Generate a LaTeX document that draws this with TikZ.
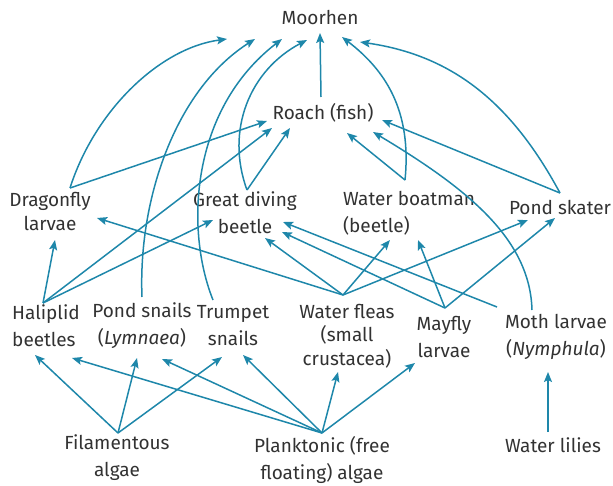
\documentclass[tikz,border=0pt]{standalone}
\usepackage{fontspec}
\setmainfont{Fira Sans}
\usetikzlibrary{arrows.meta,calc}
\definecolor{arrowc}{RGB}{30,135,170}
\definecolor{txt}{RGB}{50,50,50}
\tikzset{
  lbl/.style={text=txt, font=\fontsize{19}{27}\selectfont, align=center, inner sep=0pt},
  arr/.style={draw=arrowc, line width=1.5pt, -{Stealth[length=10pt,width=8pt,inset=2pt]}}
}
\begin{document}
\begin{tikzpicture}[x=1pt,y=-1pt]
\useasboundingbox (0,0) rectangle (613,486);
\node[lbl] (M) at (320,18) {Moorhen};
\node[lbl] (R) at (323,113) {Roach (fish)};
\node[lbl,font=\fontsize{19}{24}\selectfont] (D) at (50,211) {Dragonfly\\larvae};
\node[lbl] (G) at (245,213) {Great diving\\beetle};
\node[lbl,align=left] (B) at (409,213) {Water boatman\\(beetle)};
\node[lbl] (S) at (560,207) {Pond skater};
\node[lbl,align=left] (H) at (46,326) {Haliplid\\beetles};
\node[lbl] (P) at (142,326) {Pond snails\\(\textit{Lymnaea})};
\node[lbl] (T) at (233,326) {Trumpet\\snails};
\node[lbl,font=\fontsize{19}{23.5}\selectfont] (F) at (347,336) {Water fleas\\(small\\crustacea)};
\node[lbl] (Y) at (444,337) {Mayfly\\larvae};
\node[lbl] (O) at (556,337) {Moth larvae\\(\textit{Nymphula})};
\node[lbl] (L) at (553,445) {Water lilies};
\node[lbl] (A) at (117,458) {Filamentous\\algae};
\node[lbl] (K) at (322,460) {Planktonic (free\\floating) algae};
% to Moorhen
\draw[arr] ($(R)+(-2,-16)$) -- ($(M)+(0,15)$);
\draw[arr] ($(D)+(20,-23)$) .. controls (95,110) and (160,48) .. ($(M)+(-93,21)$);
\draw[arr] ($(P)+(0,-29)$) .. controls (138,200) and (175,90) .. ($(M)+(-65,21)$);
\draw[arr] ($(T)+(-20,-26)$) .. controls (185,230) and (190,110) .. ($(M)+(-38,21)$);
\draw[arr] ($(G)+(2,-23)$) .. controls (225,130) and (250,70) .. ($(M)+(-13,22)$);
\draw[arr] ($(B)+(-4,-33)$) .. controls (412,110) and (385,70) .. ($(M)+(22,19)$);
\draw[arr] ($(S)+(0,-14)$) .. controls (510,100) and (450,55) .. ($(M)+(40,24)$);
% to Roach
\draw[arr] ($(D)+(20,-23)$) -- ($(R)+(-56,8)$);
\draw[arr] ($(G)+(2,-23)$) -- ($(R)+(-33,15)$);
\draw[arr] ($(H)+(-3,-23)$) -- ($(R)+(-51,15)$);
\draw[arr] ($(O)+(-24,-27)$) .. controls (530,240) and (470,190) .. ($(R)+(50,19)$);
\draw[arr] ($(B)+(-4,-33)$) -- ($(R)+(24,20)$);
\draw[arr] ($(S)+(0,-14)$) -- ($(R)+(59,7)$);
% Haliplid
\draw[arr] ($(H)+(-3,-23)$) -- ($(D)+(5,29)$);
\draw[arr] ($(H)+(-3,-23)$) -- ($(G)+(-32,7)$);
% Water fleas
\draw[arr] ($(F)+(-4,-41)$) -- ($(D)+(47,7)$);
\draw[arr] ($(F)+(-4,-41)$) -- ($(G)+(20,25)$);
\draw[arr] ($(F)+(-4,-41)$) -- ($(B)+(-19,27)$);
\draw[arr] ($(F)+(-4,-41)$) -- ($(S)+(-32,13)$);
% Mayfly
\draw[arr] ($(Y)+(1,-29)$) -- ($(G)+(37,19)$);
\draw[arr] ($(Y)+(1,-29)$) -- ($(B)+(9,27)$);
\draw[arr] ($(Y)+(1,-29)$) -- ($(S)+(-5,11)$);
% Moth
\draw[arr] ($(O)+(-59,-30)$) -- ($(G)+(38,9)$);
% Filamentous algae
\draw[arr] ($(A)+(1,-25)$) -- ($(H)+(-11,29)$);
\draw[arr] ($(A)+(1,-25)$) -- ($(P)+(-5,32)$);
\draw[arr] ($(A)+(1,-25)$) -- ($(T)+(-11,31)$);
% Planktonic algae
\draw[arr] ($(K)+(0,-27)$) -- ($(H)+(26,32)$);
\draw[arr] ($(K)+(0,-27)$) -- ($(P)+(20,33)$);
\draw[arr] ($(K)+(0,-27)$) -- ($(T)+(10,29)$);
\draw[arr] ($(K)+(0,-27)$) -- ($(F)+(-9,36)$);
\draw[arr] ($(K)+(0,-27)$) -- ($(Y)+(-29,26)$);
% Water lilies
\draw[arr] ($(L)+(-5,-13)$) -- ($(O)+(-8,35)$);
\end{tikzpicture}
\end{document}
